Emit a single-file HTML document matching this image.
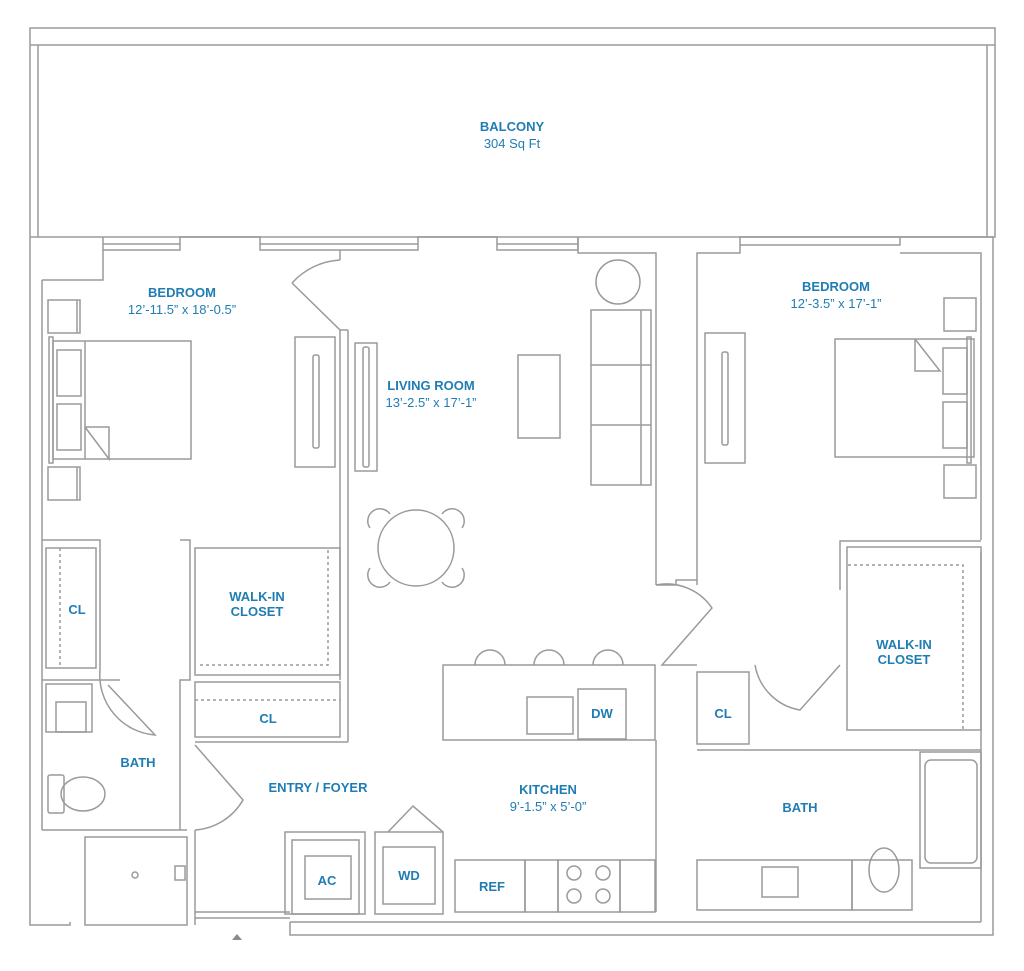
<!DOCTYPE html>
<html><head><meta charset="utf-8"><style>
html,body{margin:0;padding:0;background:#fff}
svg{display:block}
text{font-family:"Liberation Sans",sans-serif;fill:#1f7db4;text-anchor:middle;font-size:13px}
.t{font-weight:bold;font-size:13px}
</style></head><body>
<svg width="1024" height="971" viewBox="0 0 1024 971" xmlns="http://www.w3.org/2000/svg">
<g fill="none" stroke="#9a9a9a" stroke-width="1.5">
<rect x="30" y="28" width="965" height="209"/>
<line x1="30" y1="45" x2="995" y2="45"/>
<line x1="38" y1="45" x2="38" y2="237"/>
<line x1="987" y1="45" x2="987" y2="237"/>
<polyline points="30,237 30,925 70,925 70,922"/>
<polyline points="42,280 103,280 103,237"/>
<line x1="42" y1="280" x2="42" y2="830"/>
<polyline points="103,250 180,250 180,237 260,237 260,250 418,250 418,237 497,237 497,250 578,250 578,237"/>
<polyline points="103,244 180,244"/><polyline points="260,244 418,244"/><polyline points="497,244 578,244"/>
<polyline points="578,237 578,253 656,253 656,585"/>
<polyline points="697,585 697,253 740,253 740,245 900,245 900,237 993,237 993,935 290,935 290,922"/>
<polyline points="740,245 740,237 900,237"/>
<polyline points="900,253 981,253 981,540"/>
<line x1="981" y1="552" x2="981" y2="922"/>
<line x1="290" y1="922" x2="981" y2="922"/>
<rect x="48" y="300" width="32" height="33"/><line x1="77" y1="300" x2="77" y2="333"/>
<rect x="48" y="467" width="32" height="33"/><line x1="77" y1="467" x2="77" y2="500"/>
<rect x="49" y="337" width="4" height="126"/>
<rect x="53" y="341" width="138" height="118"/>
<rect x="57" y="350" width="24" height="46"/><rect x="57" y="404" width="24" height="46"/>
<line x1="85" y1="341" x2="85" y2="459"/>
<polyline points="85,427 109,427 109,459 85,427"/>
<rect x="295" y="337" width="40" height="130"/><rect x="313" y="355" width="6" height="93" rx="2"/>
<polyline points="292,283 340,330 340,680"/>
<polyline points="348,330 348,742"/>
<line x1="340" y1="330" x2="348" y2="330"/>
<path d="M292,283 A 70 70 0 0 1 340,260"/>
<polyline points="340,260 340,250"/>
<polyline points="42,540 100,540 100,670"/>
<rect x="46" y="548" width="50" height="120"/>
<line x1="60" y1="548" x2="60" y2="668" stroke-dasharray="3 3"/>
<line x1="42" y1="680" x2="120" y2="680"/>
<path d="M100,670 A 60 60 0 0 0 155,735 L108,685"/>
<polyline points="180,540 190,540 190,680 180,680 180,830"/>
<rect x="195" y="548" width="145" height="127"/>
<polyline points="200,665 328,665 328,548" stroke-dasharray="3 3"/>
<rect x="195" y="682" width="145" height="55"/>
<line x1="195" y1="700" x2="340" y2="700" stroke-dasharray="3 3"/>
<line x1="195" y1="742" x2="348" y2="742"/>
<rect x="46" y="684" width="46" height="48"/>
<rect x="56" y="702" width="30" height="30"/>
<rect x="48" y="775" width="16" height="38" rx="2"/>
<ellipse cx="83" cy="794" rx="22" ry="17"/>
<polyline points="42,830 187,830"/>
<rect x="85" y="837" width="102" height="88"/>
<circle cx="135" cy="875" r="3"/>
<rect x="175" y="866" width="10" height="14"/>
<path d="M195,745 L243,800 A 60 60 0 0 1 195,830"/>
<line x1="195" y1="830" x2="195" y2="925"/>
<line x1="195" y1="918" x2="290" y2="918"/>
<line x1="195" y1="912" x2="290" y2="912"/>
<circle cx="618" cy="282" r="22"/>
<rect x="591" y="310" width="60" height="175"/>
<line x1="591" y1="365" x2="651" y2="365"/><line x1="591" y1="425" x2="651" y2="425"/>
<line x1="641" y1="310" x2="641" y2="485"/>
<rect x="518" y="355" width="42" height="83"/>
<rect x="355" y="343" width="22" height="128"/><rect x="363" y="347" width="6" height="120" rx="2"/>
<circle cx="416" cy="548" r="38"/>
<path d="M370,528 a12 12 0 0 1 20,-14"/><path d="M442,514 a12 12 0 0 1 20,14"/>
<path d="M370,568 a12 12 0 0 0 20,14"/><path d="M442,582 a12 12 0 0 0 20,-14"/>
<polyline points="656,585 676,585 676,580 697,580"/>
<path d="M656,585 A 55 55 0 0 1 712,608 L662,665 L697,665"/>
<rect x="443" y="665" width="212" height="75"/>
<path d="M475,665 a15 15 0 0 1 30,0"/><path d="M534,665 a15 15 0 0 1 30,0"/><path d="M593,665 a15 15 0 0 1 30,0"/>
<rect x="527" y="697" width="46" height="37"/>
<rect x="578" y="689" width="48" height="50"/>
<rect x="705" y="333" width="40" height="130"/><rect x="722" y="352" width="6" height="93" rx="2"/>
<rect x="835" y="339" width="139" height="118"/>
<rect x="943" y="348" width="24" height="46"/><rect x="943" y="402" width="24" height="46"/>
<rect x="967" y="337" width="4" height="126"/>
<polyline points="915,339 915,371 940,371 915,339"/>
<rect x="944" y="298" width="32" height="33"/><rect x="944" y="465" width="32" height="33"/>
<polyline points="840,590 840,541 981,541"/>
<rect x="847" y="547" width="134" height="183"/>
<polyline points="848,565 963,565 963,730" stroke-dasharray="3 3"/>
<path d="M840,665 L800,710 A 55 55 0 0 1 755,665"/>
<rect x="697" y="672" width="52" height="72"/>
<line x1="697" y1="750" x2="981" y2="750"/>
<rect x="920" y="752" width="61" height="116"/>
<rect x="925" y="760" width="52" height="103" rx="6"/>
<rect x="697" y="860" width="155" height="50"/>
<rect x="762" y="867" width="36" height="30"/>
<rect x="852" y="860" width="60" height="50"/>
<ellipse cx="884" cy="870" rx="15" ry="22"/>
<rect x="285" y="832" width="80" height="82"/>
<rect x="292" y="840" width="67" height="74"/>
<rect x="305" y="856" width="46" height="43"/>
<rect x="375" y="832" width="68" height="82"/>
<rect x="383" y="847" width="52" height="57"/>
<polyline points="388,832 413,806 443,832"/>
<rect x="455" y="860" width="70" height="52"/>
<rect x="525" y="860" width="33" height="52"/>
<rect x="558" y="860" width="62" height="52"/>
<rect x="620" y="860" width="35" height="52"/>
<circle cx="574" cy="873" r="7"/><circle cx="603" cy="873" r="7"/>
<circle cx="574" cy="896" r="7"/><circle cx="603" cy="896" r="7"/>
<line x1="656" y1="740" x2="656" y2="912"/>
</g>
<polygon points="232,940 237,934 242,940" fill="#8a8a8a"/>
<text class="t" x="512" y="131">BALCONY</text>
<text x="512" y="148">304 Sq Ft</text>
<text class="t" x="182" y="297">BEDROOM</text>
<text x="182" y="314">12’-11.5” x 18’-0.5”</text>
<text class="t" x="431" y="390">LIVING ROOM</text>
<text x="431" y="407">13’-2.5” x 17’-1”</text>
<text class="t" x="836" y="291">BEDROOM</text>
<text x="836" y="308">12’-3.5” x 17’-1”</text>
<text class="t" x="77" y="614">CL</text>
<text class="t" x="257" y="601">WALK-IN</text>
<text class="t" x="257" y="616">CLOSET</text>
<text class="t" x="268" y="723">CL</text>
<text class="t" x="138" y="767">BATH</text>
<text class="t" x="318" y="792">ENTRY / FOYER</text>
<text class="t" x="548" y="794">KITCHEN</text>
<text x="548" y="811">9’-1.5” x 5’-0”</text>
<text class="t" x="602" y="718">DW</text>
<text class="t" x="723" y="718">CL</text>
<text class="t" x="904" y="649">WALK-IN</text>
<text class="t" x="904" y="664">CLOSET</text>
<text class="t" x="800" y="812">BATH</text>
<text class="t" x="327" y="885">AC</text>
<text class="t" x="409" y="880">WD</text>
<text class="t" x="492" y="891">REF</text>
</svg>
</body></html>
